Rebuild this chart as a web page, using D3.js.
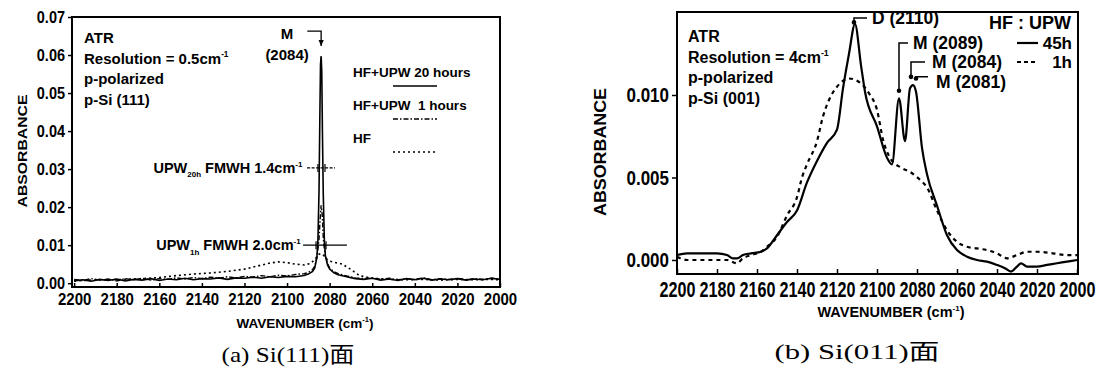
<!DOCTYPE html>
<html><head><meta charset="utf-8">
<script src="https://cdn.jsdelivr.net/npm/d3@7"></script>
<style>
body{margin:0;background:#fff;}
svg{display:block;}
text{font-family:"Liberation Sans",Arial,Helvetica,sans-serif;font-weight:bold;fill:#000;}
.cap{font-family:"Liberation Serif","DejaVu Serif","Noto Sans CJK JP",serif;font-weight:normal;}
</style></head><body>
<svg id="chart" width="1101" height="369"></svg>
<script>
// ---------- panel (a): Si(111), resolution 0.5 cm-1 ----------
const wnA20 = [2200,2196,2192,2188,2184,2180,2176,2172,2168,2164,2160,2156,2152,2148,2144,2140,2136,2132,2128,2124,2120,2116,2112,2108,2104,2100,2096,2092,
  2090,2088,2087,2086,2085.5,2085,2084.6,2084.3,2084,2083.7,2083.4,2083,2082.5,2082,2081,2080,2078,2076,
  2072,2068,2064,2060,2056,2052,2048,2044,2040,2036,2032,2028,2024,2020,2016,2012,2008,2004,2000];
const absA20 = [.0006,.0009,.0005,.0010,.0007,.0011,.0006,.0010,.0008,.0012,.0007,.0011,.0009,.0013,.0009,.0012,.0011,.0014,.0010,.0014,.0013,.0016,.0013,.0017,.0015,.0018,.0017,.0020,
  .0024,.0031,.0040,.0068,.0115,.0240,.0440,.0575,.0597,.0555,.0400,.0235,.0115,.0072,.0048,.0037,.0027,.0022,
  .0017,.0012,.0010,.0013,.0008,.0011,.0007,.0012,.0009,.0013,.0008,.0011,.0009,.0012,.0008,.0011,.0009,.0013,.0010];

const wnA1 = [2200,2196,2192,2188,2184,2180,2176,2172,2168,2164,2160,2156,2152,2148,2144,2140,2136,2132,2128,2124,2120,2116,2112,2108,2104,2100,2096,2092,
  2090,2088,2087,2086.5,2086,2085.5,2085,2084.5,2084,2083.5,2083,2082.5,2082,2081,2080,2078,2076,
  2072,2068,2064,2060,2056,2052,2048,2044,2040,2036,2032,2028,2024,2020,2016,2012,2008,2004,2000];
const absA1 = [.0010,.0007,.0012,.0008,.0011,.0006,.0012,.0009,.0013,.0008,.0012,.0010,.0014,.0011,.0015,.0012,.0016,.0013,.0017,.0014,.0018,.0016,.0020,.0017,.0021,.0019,.0023,.0025,
  .0028,.0036,.0045,.0055,.0068,.0090,.0115,.0165,.0205,.0180,.0120,.0090,.0070,.0052,.0040,.0030,.0025,
  .0019,.0014,.0012,.0014,.0010,.0013,.0009,.0012,.0010,.0014,.0009,.0012,.0010,.0013,.0009,.0012,.0010,.0013,.0011];

const wnAHF = [2200,2192,2184,2176,2168,2160,2152,2144,2136,2128,2120,2114,2108,2104,2100,2096,2092,2089,2087,2086,2085,2084,2083,2082,2080,2077,2074,2070,2066,2060,2052,2044,2036,2028,2020,2012,2004,2000];
const absAHF = [.0006,.0008,.0009,.0010,.0012,.0015,.0020,.0024,.0027,.0031,.0037,.0045,.0053,.0056,.0054,.0050,.0048,.0052,.0062,.0070,.0076,.0078,.0074,.0066,.0058,.0054,.0050,.0036,.0020,.0013,.0010,.0009,.0010,.0008,.0010,.0009,.0010,.0009];

const ticksA_y = [0,0.01,0.02,0.03,0.04,0.05,0.06,0.07];
const ticksA_x = [2200,2180,2160,2140,2120,2100,2080,2060,2040,2020,2000];

// ---------- panel (b): Si(011), resolution 4 cm-1 ----------
const wnB45 = [2200,2195,2190,2185,2180,2175,2172,2170,2167,2163,2158,2155,2150,2145,2140,2135,2130,2125,2120,2117,2114,2111,2108,2106,2100,2095,2092.5,2089,2086,2083.5,2082,2080.5,2077.5,2075,2070,2065,2060,2055,2050,2045,2040,2036,2033,2030,2028,2025,2020,2015,2010,2005,2000];
const absB45 = [.0003,.0004,.0004,.0004,.0004,.0003,.0001,.0001,.0003,.0004,.0005,.0007,.0015,.0023,.0030,.0047,.0060,.0071,.0079,.0104,.0125,.0143,.0118,.0102,.0081,.0062,.0058,.0098,.0072,.0104,.0106,.0102,.0068,.0052,.0033,.0015,.0006,.0002,.0000,-.0001,-.0003,-.0005,-.0007,-.0004,-.0002,-.0004,-.0004,-.0003,-.0002,-.0001,.0000];

const wnB1 = [2200,2195,2190,2185,2180,2175,2170,2167,2163,2158,2155,2150,2145,2140,2137.5,2135,2130,2127,2124,2120,2114,2108,2104,2100,2097,2093,2088,2083,2078,2075,2070,2065,2060,2055,2050,2045,2040,2035,2030,2025,2020,2012,2005,2000];
const absB1 = [.0002,.0000,.0000,.0000,.0000,.0000,-.0002,.0001,.0003,.0005,.0008,.0014,.0027,.0038,.0050,.0058,.0072,.0087,.0097,.0105,.0110,.0107,.0101,.0091,.0073,.0061,.0056,.0053,.0048,.0044,.0030,.0018,.0011,.0008,.0007,.0006,.0004,.0001,.0003,.0005,.0005,.0004,.0003,.0003];

const ticksB_y = [0,0.005,0.010];
const ticksB_x = [2200,2180,2160,2140,2120,2100,2080,2060,2040,2020,2000];

// ---------- helpers ----------
const svg = d3.select("#chart");

function rich(g, x, y, parts, size, anchor) {
  const t = g.append("text").attr("x", x).attr("y", y)
    .attr("font-size", size).attr("text-anchor", anchor || "start")
    .style("white-space", "pre");
  let shift = 0;
  parts.forEach(p => {
    const [s, k] = Array.isArray(p) ? p : [p];
    const target = k === "sup" ? -0.42 * size : k === "sub" ? 0.3 * size : 0;
    const ts = t.append("tspan").text(s).attr("dy", target - shift);
    if (k) ts.attr("font-size", size * 0.55);
    shift = target;
  });
  return t;
}

svg.append("defs").append("marker")
  .attr("id", "arrow").attr("viewBox", "0 0 10 10").attr("refX", 9).attr("refY", 5)
  .attr("markerWidth", 5).attr("markerHeight", 5).attr("orient", "auto")
  .append("path").attr("d", "M0,1 L9,5 L0,9 Z").attr("fill", "#000");

// =================== panel (a) ===================
const xA = d3.scaleLinear().domain([2201, 2000]).range([72, 500]);
const yA = d3.scaleLinear().domain([-0.001, 0.07]).range([287, 17]);
const gA = svg.append("g");

gA.append("g").attr("transform", "translate(0,287)")
  .call(d3.axisBottom(xA).tickValues(ticksA_x).tickSizeInner(-4).tickSizeOuter(0).tickPadding(6).tickFormat(d3.format("d")))
  .call(g => g.select(".domain").remove())
  .call(g => g.selectAll("line").attr("stroke-width", 1.5))
  .call(g => g.selectAll("text").attr("font-size", 15).attr("font-weight", "bold").attr("fill", "#000")
      .attr("font-family", "Liberation Sans, Arial, sans-serif").attr("transform", "scale(1,1.1)"));

gA.append("g").attr("transform", "translate(72,0)")
  .call(d3.axisLeft(yA).tickValues(ticksA_y).tickSizeInner(4).tickSizeOuter(0).tickPadding(3).tickFormat(d3.format(".2f")))
  .call(g => g.select(".domain").remove())
  .call(g => g.selectAll("line").attr("stroke-width", 1.5))
  .call(g => g.selectAll("text").attr("font-size", 14.5).attr("font-weight", "bold").attr("fill", "#000")
      .attr("font-family", "Liberation Sans, Arial, sans-serif").attr("transform", "scale(1,1.1)"));

gA.append("rect").attr("x", 72).attr("y", 17).attr("width", 428).attr("height", 270)
  .attr("fill", "none").attr("stroke", "#000").attr("stroke-width", 2);

const lineA = d3.line().x(d => xA(d[0])).y(d => yA(d[1]));
gA.append("path").datum(d3.zip(wnAHF, absAHF)).attr("d", lineA)
  .attr("fill", "none").attr("stroke", "#000").attr("stroke-width", 1.6).attr("stroke-dasharray", "2,3");
gA.append("path").datum(d3.zip(wnA1, absA1)).attr("d", lineA)
  .attr("fill", "none").attr("stroke", "#000").attr("stroke-width", 1.4).attr("stroke-dasharray", "5,2,1.5,2");
gA.append("path").datum(d3.zip(wnA20, absA20)).attr("d", lineA)
  .attr("fill", "none").attr("stroke", "#000").attr("stroke-width", 1.6);

// text block
[["ATR"], ["Resolution = 0.5cm", ["-1", "sup"]], ["p-polarized"], ["p-Si (111)"]].forEach((parts, i) => {
  rich(gA, 84, 43 + i * 20.5, parts, 15);
});

// peak label and arrow
gA.append("text").attr("x", xA(2100)).attr("y", 39).attr("text-anchor", "middle").attr("font-size", 15).text("M");
gA.append("text").attr("x", xA(2100)).attr("y", 60).attr("text-anchor", "middle").attr("font-size", 15).text("(2084)");
gA.append("path")
  .attr("d", `M${xA(2090.5)},${yA(0.0663)} H${xA(2084)} V${yA(0.0624)}`)
  .attr("fill", "none").attr("stroke", "#000").attr("stroke-width", 1.3).attr("marker-end", "url(#arrow)");

// FWHM markers
function fwhm(level, x0, x1, t0, t1, textEnd, sub, label) {
  gA.append("line").attr("x1", xA(x0)).attr("x2", xA(x1)).attr("y1", yA(level)).attr("y2", yA(level))
    .attr("stroke", "#000").attr("stroke-width", 1.3).attr("stroke-dasharray", level > 0.02 ? "3,1.5" : null);
  [t0, t1].forEach(t => gA.append("line").attr("x1", xA(t)).attr("x2", xA(t))
    .attr("y1", yA(level) - 4).attr("y2", yA(level) + 4).attr("stroke", "#000").attr("stroke-width", 1.2));
  rich(gA, xA(textEnd), yA(level) + 5, ["UPW", [sub, "sub"], " FMWH " + label + "cm", ["-1", "sup"]], 14.5, "end");
}
fwhm(0.0303, 2090.6, 2077.5, 2085.5, 2082.2, 2092.8, "20h", "1.4");
fwhm(0.0100, 2092.5, 2071.9, 2086.4, 2081.7, 2093.6, "1h", "2.0");

// legend (a)
const legA = [
  {label: "HF+UPW 20 hours", dash: null, y: 77},
  {label: "HF+UPW  1 hours", dash: "5,2,1.5,2", y: 110},
  {label: "HF", dash: "2,3", y: 143}
];
legA.forEach(d => {
  gA.append("text").attr("x", 353).attr("y", d.y).attr("font-size", 13.5).style("white-space", "pre").text(d.label);
  gA.append("line").attr("x1", 393).attr("x2", 437).attr("y1", d.y + 9).attr("y2", d.y + 9)
    .attr("stroke", "#000").attr("stroke-width", 1.6).attr("stroke-dasharray", d.dash);
});

// axis titles (a)
gA.append("text").attr("transform", "translate(27,151) rotate(-90)").attr("text-anchor", "middle")
  .attr("font-size", 13).attr("textLength", 113).attr("lengthAdjust", "spacingAndGlyphs").text("ABSORBANCE");
rich(gA, 305, 328, ["WAVENUMBER (cm", ["-1", "sup"], ")"], 13.5, "middle");

gA.append("text").attr("class", "cap").attr("x", 288).attr("y", 362).attr("text-anchor", "middle")
  .attr("font-size", 22).attr("textLength", 133).attr("lengthAdjust", "spacingAndGlyphs").text("(a) Si(111)面");

// =================== panel (b) ===================
const xB = d3.scaleLinear().domain([2200, 2000]).range([677, 1077]);
const yB = d3.scaleLinear().domain([-0.00085, 0.01503]).range([274, 12]);
const gB = svg.append("g");

// tall, narrow tick numerals
gB.append("g").attr("transform", "translate(0,274)")
  .call(d3.axisBottom(xB).tickValues(ticksB_x).tickSizeInner(-5).tickSizeOuter(0).tickPadding(6).tickFormat(d3.format("d")))
  .call(g => g.select(".domain").remove())
  .call(g => g.selectAll("line").attr("stroke-width", 1.5))
  .call(g => g.selectAll("text").attr("font-size", 17).attr("font-weight", "bold").attr("fill", "#000")
      .attr("font-family", "Liberation Sans, Arial, sans-serif")
      .attr("transform", "scale(0.95,1.25)"));

gB.append("g").attr("transform", "translate(677,0)")
  .call(d3.axisLeft(yB).tickValues(ticksB_y).tickSizeInner(5).tickSizeOuter(0).tickPadding(3).tickFormat(d3.format(".3f")))
  .call(g => g.select(".domain").remove())
  .call(g => g.selectAll("line").attr("stroke-width", 1.5))
  .call(g => g.selectAll("text").attr("font-size", 17).attr("font-weight", "bold").attr("fill", "#000")
      .attr("font-family", "Liberation Sans, Arial, sans-serif").attr("transform", "scale(1,1.2)"));

gB.append("rect").attr("x", 677).attr("y", 12).attr("width", 401).attr("height", 262)
  .attr("fill", "none").attr("stroke", "#000").attr("stroke-width", 2);

const lineB = d3.line().x(d => xB(d[0])).y(d => yB(d[1])).curve(d3.curveMonotoneX);
gB.append("path").datum(d3.zip(wnB1, absB1)).attr("d", lineB)
  .attr("fill", "none").attr("stroke", "#000").attr("stroke-width", 2.2).attr("stroke-dasharray", "4,4");
gB.append("path").datum(d3.zip(wnB45, absB45)).attr("d", lineB)
  .attr("fill", "none").attr("stroke", "#000").attr("stroke-width", 2.2);

[["ATR"], ["Resolution = 4cm", ["-1", "sup"]], ["p-polarized"], ["p-Si (001)"]].forEach((parts, i) => {
  rich(gB, 688, 42 + i * 20.5, parts, 16);
});

// peak assignments with leader lines
const peaks = [
  {label: "D (2110)", wn: 2111.5, v: 0.0144, lv: 0.01467, end: 2105, tx: 2102.5, ty: 0.01467},
  {label: "M (2089)", wn: 2089, v: 0.01026, lv: 0.01315, end: 2084.5, tx: 2082, ty: 0.01315},
  {label: "M (2084)", wn: 2083, v: 0.0111, lv: 0.0120, end: 2076, tx: 2072.5, ty: 0.0120},
  {label: "M (2081)", wn: 2080.5, v: 0.0110, lv: 0.0111, end: 2074.5, tx: 2070.5, ty: 0.0108}
];
peaks.forEach(p => {
  gB.append("path").attr("d", `M${xB(p.wn)},${yB(p.v)} V${yB(p.lv)} H${xB(p.end)}`)
    .attr("fill", "none").attr("stroke", "#000").attr("stroke-width", 1.5);
  gB.append("circle").attr("cx", xB(p.wn)).attr("cy", yB(p.v)).attr("r", 2.3).attr("fill", "#000");
  gB.append("text").attr("x", xB(p.tx)).attr("y", yB(p.ty) + 6).attr("font-size", 17.5).text(p.label);
});

// legend (b)
gB.append("text").attr("x", 1071).attr("y", 29).attr("text-anchor", "end").attr("font-size", 18).text("HF : UPW");
[{label: "45h", dash: null, y: 43}, {label: "1h", dash: "4,3", y: 62}].forEach(d => {
  gB.append("line").attr("x1", 1017).attr("x2", 1038).attr("y1", d.y).attr("y2", d.y)
    .attr("stroke", "#000").attr("stroke-width", 2.2).attr("stroke-dasharray", d.dash);
  gB.append("text").attr("x", 1072).attr("y", d.y + 6).attr("text-anchor", "end").attr("font-size", 17).text(d.label);
});

// axis titles (b)
gB.append("text").attr("transform", "translate(606,152) rotate(-90)").attr("text-anchor", "middle")
  .attr("font-size", 17).attr("textLength", 128).attr("lengthAdjust", "spacingAndGlyphs").text("ABSORBANCE");
rich(gB, 891, 317, ["WAVENUMBER (cm", ["-1", "sup"], ")"], 14.5, "middle");

gB.append("text").attr("class", "cap").attr("x", 857).attr("y", 359).attr("text-anchor", "middle")
  .attr("font-size", 22).attr("textLength", 165).attr("lengthAdjust", "spacingAndGlyphs").text("(b) Si(011)面");
</script>
</body></html>
